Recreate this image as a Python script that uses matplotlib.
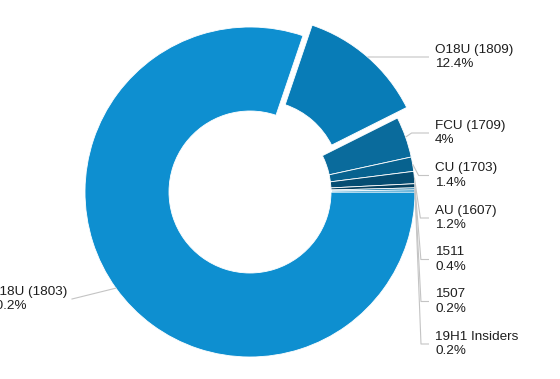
import matplotlib
matplotlib.use("Agg")
import matplotlib.pyplot as plt
import numpy as np

# ---- data ----
labels = ["O18U (1803)", "O18U (1809)", "FCU (1709)", "CU (1703)",
          "AU (1607)", "1511", "1507", "19H1 Insiders"]
shares = [80.2, 12.4, 4, 1.4, 1.2, 0.4, 0.2, 0.2]
pct_text = ["80.2%", "12.4%", "4%", "1.4%", "1.2%", "0.4%", "0.2%", "0.2%"]
colors = ["#0e8fd0", "#087cb7", "#0a6b9c", "#07628f",
          "#054d72", "#043f5e", "#0a6f9f", "#0c86c2"]

# ---- layout (pixels) ----
W, H = 560, 379
cx, cy = 250, H - 192
R = 165
HOLE = 81
explode = [0, 14, 0, 0, 0, 0, 0, 0]
label_y = [299, 57, 133, 175.5, 218, 259.5, 301.5, 344]  # image px, label middle

fig = plt.figure(figsize=(W / 100, H / 100), dpi=100)
ax = fig.add_axes([0, 0, 1, 1])
wedges, _ = ax.pie(shares, colors=colors, radius=R, center=(cx, cy),
                   startangle=0, counterclock=False, explode=explode,
                   wedgeprops=dict(width=R - HOLE, edgecolor="white",
                                   linewidth=0.6),
                   frame=False)
ax.set_xlim(0, W)
ax.set_ylim(0, H)
ax.set_aspect("equal")
ax.axis("off")

font = dict(family="Liberation Sans", size=9.7, color="#1e1e1e")
line_col = "#c4c4c4"

for w, lab, pct, ly in zip(wedges, labels, pct_text, label_y):
    mid = np.deg2rad((w.theta1 + w.theta2) / 2)
    x0 = w.center[0] + w.r * np.cos(mid)
    y0 = w.center[1] + w.r * np.sin(mid)
    yl = H - ly
    if np.cos(mid) >= 0:
        xs = [x0, x0 + 6, 429]
        ys = [y0, yl, yl]
        ax.plot(xs, ys, color=line_col, lw=0.8, solid_capstyle="butt")
        ax.text(435, yl, f"{lab}\n{pct}", ha="left", va="center",
                linespacing=1.25, **font)
    else:
        xs = [x0, 72]
        ys = [y0, yl]
        ax.plot(xs, ys, color=line_col, lw=0.8)
        ax.text(67, yl, f"{lab}\n{pct}", ha="right", va="center",
                multialignment="left", linespacing=1.25, **font)

fig.savefig("out.png", dpi=100)
